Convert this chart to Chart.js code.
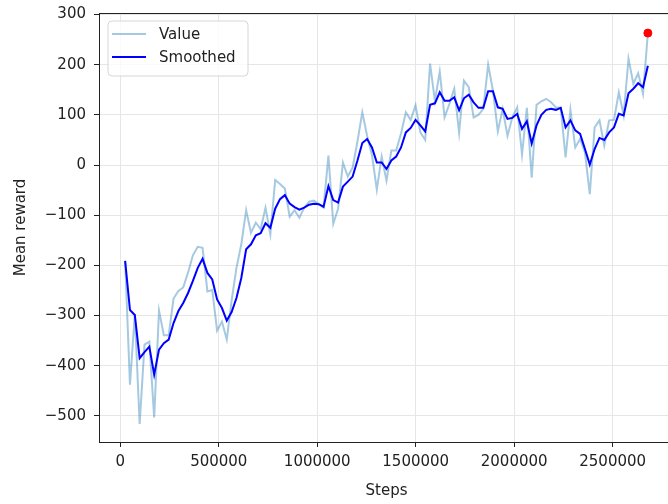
<!DOCTYPE html>
<html>
<head>
<meta charset="utf-8">
<script src="https://cdn.jsdelivr.net/npm/chart.js@4.4.1/dist/chart.umd.min.js"></script>
<style>
    html, body { margin: 0; padding: 0; overflow: hidden; background: #fff; }
    #wrap { width: 680px; height: 504px; }
</style>
</head>
<body>
<div id="wrap"><canvas id="chart" width="680" height="504"></canvas></div>
<script>
// evaluation steps (x)
const steps = [
    24576, 49152, 73728, 98304, 122880, 147456, 172032, 196608, 221184, 245760,
    270336, 294912, 319488, 344064, 368640, 393216, 417792, 442368, 466944, 491520,
    516096, 540672, 565248, 589824, 614400, 638976, 663552, 688128, 712704, 737280,
    761856, 786432, 811008, 835584, 860160, 884736, 909312, 933888, 958464, 983040,
    1007616, 1032192, 1056768, 1081344, 1105920, 1130496, 1155072, 1179648, 1204224, 1228800,
    1253376, 1277952, 1302528, 1327104, 1351680, 1376256, 1400832, 1425408, 1449984, 1474560,
    1499136, 1523712, 1548288, 1572864, 1597440, 1622016, 1646592, 1671168, 1695744, 1720320,
    1744896, 1769472, 1794048, 1818624, 1843200, 1867776, 1892352, 1916928, 1941504, 1966080,
    1990656, 2015232, 2039808, 2064384, 2088960, 2113536, 2138112, 2162688, 2187264, 2211840,
    2236416, 2260992, 2285568, 2310144, 2334720, 2359296, 2383872, 2408448, 2433024, 2457600,
    2482176, 2506752, 2531328, 2555904, 2580480, 2605056, 2629632, 2654208, 2678784
];

// raw mean reward
const rewardValue = [
    -191, -438, -297, -516, -358, -352, -503, -290, -339, -339,
    -266, -251, -244, -214, -180, -163, -165, -252, -249, -330,
    -312, -348, -270, -205, -158, -90, -135, -115, -128, -85,
    -138, -30, -38, -47, -103, -90, -105, -85, -73, -71,
    -78, -85, 19, -117, -87, 5, -23, -5, 47, 105,
    58, 20, -49, 17, -31, 29, 29, 63, 105, 90,
    119, 65, 50, 202, 128, 186, 95, 122, 152, 64,
    168, 155, 95, 100, 112, 200, 148, 67, 112, 58,
    95, 115, 21, 114, -25, 120, 127, 132, 125, 115,
    114, 15, 110, 35, 52, 25, -58, 75, 89, 39,
    89, 90, 145, 99, 212, 162, 183, 142, 263
];

// smoothed mean reward
const rewardSmoothed = [
    -191, -289, -299, -385, -373, -362, -418, -368, -355, -348,
    -315, -291, -275, -255, -231, -205, -187, -215, -228, -268,
    -285, -310, -293, -265, -225, -168, -158, -140, -136, -116,
    -125, -87, -68, -60, -77, -84, -89, -85, -79, -77,
    -78, -83, -42, -70, -75, -43, -33, -23, 9, 44,
    52, 35, 5, 5, -8, 9, 17, 35, 65, 74,
    90, 79, 67, 120, 123, 145, 128, 128, 135, 109,
    133, 140, 125, 114, 114, 147, 147, 115, 112, 92,
    94, 102, 72, 87, 43, 79, 100, 110, 112, 110,
    114, 75, 89, 69, 62, 32, 1, 32, 54, 50,
    65, 75, 102, 99, 143, 152, 163, 155, 198
];

const xTicks = [0, 500000, 1000000, 1500000, 2000000, 2500000];
const yTicks = [-500, -400, -300, -200, -100, 0, 100, 200, 300];

const fontFamily = "'DejaVu Sans', sans-serif";
const valueColor = "rgba(31, 119, 180, 0.4)";
const smoothColor = "#0000ff";
const gridColor = "#e6e6e6";

function pairs(xs, ys) {
    return xs.map(function (x, i) { return { x: x, y: ys[i] }; });
}

function minusSign(v) {
    return v < 0 ? "\u2212" + Math.abs(v) : String(v);
}

// frame around the plot area + legend inside it
const framePlugin = {
    id: "frame",
    afterDraw: function (chart) {
        const ctx = chart.ctx;
        const a = chart.chartArea;
        ctx.save();
        ctx.strokeStyle = "#222";
        ctx.lineWidth = 1;
        ctx.strokeRect(Math.round(a.left) + 0.5, Math.round(a.top) + 0.5,
            Math.round(a.right - a.left), Math.round(a.bottom - a.top));

        // legend box
        const lx = a.left + 9, ly = a.top + 8, lw = 140, lh = 55, r = 4;
        ctx.beginPath();
        ctx.moveTo(lx + r, ly);
        ctx.arcTo(lx + lw, ly, lx + lw, ly + lh, r);
        ctx.arcTo(lx + lw, ly + lh, lx, ly + lh, r);
        ctx.arcTo(lx, ly + lh, lx, ly, r);
        ctx.arcTo(lx, ly, lx + lw, ly, r);
        ctx.closePath();
        ctx.fillStyle = "rgba(255, 255, 255, 0.8)";
        ctx.fill();
        ctx.strokeStyle = "#d6d6d6";
        ctx.stroke();

        const entries = [
            { label: "Value", color: valueColor, y: ly + 13 },
            { label: "Smoothed", color: smoothColor, y: ly + 36 },
        ];
        ctx.font = "15px " + fontFamily;
        ctx.textBaseline = "middle";
        entries.forEach(function (e) {
            ctx.strokeStyle = e.color;
            ctx.lineWidth = 2;
            ctx.beginPath();
            ctx.moveTo(lx + 4, e.y);
            ctx.lineTo(lx + 38, e.y);
            ctx.stroke();
            ctx.fillStyle = "#222";
            ctx.fillText(e.label, lx + 51, e.y + 1);
        });
        ctx.restore();
    },
};

new Chart(document.getElementById("chart"), {
    type: "line",
    data: {
        datasets: [
            {
                label: "Last",
                type: "scatter",
                data: [{ x: steps[steps.length - 1], y: rewardValue[rewardValue.length - 1] }],
                backgroundColor: "#ff0000",
                borderColor: "#ff0000",
                pointRadius: 4,
                order: 0,
            },
            {
                label: "Smoothed",
                data: pairs(steps, rewardSmoothed),
                borderColor: smoothColor,
                borderWidth: 2,
                pointRadius: 0,
                tension: 0,
                order: 1,
            },
            {
                label: "Value",
                data: pairs(steps, rewardValue),
                borderColor: valueColor,
                borderWidth: 2,
                pointRadius: 0,
                tension: 0,
                order: 2,
            },
        ],
    },
    options: {
        responsive: false,
        animation: false,
        devicePixelRatio: 1,
        layout: { padding: { left: 0, top: 13, right: 6, bottom: 0 } },
        plugins: {
            legend: { display: false },
            tooltip: { enabled: false },
        },
        scales: {
            x: {
                type: "linear",
                min: -108134,
                max: 2811494,
                afterBuildTicks: function (scale) {
                    scale.ticks = xTicks.map(function (v) { return { value: v }; });
                },
                afterFit: function (scale) {
                    scale.height = 62;
                    scale.paddingLeft = 0;
                    scale.paddingRight = 0;
                },
                ticks: {
                    color: "#222",
                    font: { family: fontFamily, size: 15 },
                    padding: 6,
                    maxRotation: 0,
                    autoSkip: false,
                    callback: function (v) { return String(v); },
                },
                grid: { color: gridColor, tickColor: "#222", tickLength: 5 },
                border: { color: "#222" },
                title: {
                    display: true,
                    text: "Steps",
                    color: "#222",
                    font: { family: fontFamily, size: 15 },
                    padding: { top: 4, bottom: 4 },
                },
            },
            y: {
                type: "linear",
                min: -552,
                max: 303,
                afterBuildTicks: function (scale) {
                    scale.ticks = yTicks.map(function (v) { return { value: v }; });
                },
                afterFit: function (scale) {
                    scale.width = 99;
                    scale.paddingTop = 0;
                    scale.paddingBottom = 0;
                },
                ticks: {
                    color: "#222",
                    font: { family: fontFamily, size: 15 },
                    padding: 8,
                    autoSkip: false,
                    callback: function (v) { return minusSign(v); },
                },
                grid: { color: gridColor, tickColor: "#222", tickLength: 5 },
                border: { color: "#222" },
                title: {
                    display: true,
                    text: "Mean reward",
                    color: "#222",
                    font: { family: fontFamily, size: 15 },
                    padding: { top: 12, bottom: 4 },
                },
            },
        },
    },
    plugins: [framePlugin],
});
</script>
</body>
</html>
